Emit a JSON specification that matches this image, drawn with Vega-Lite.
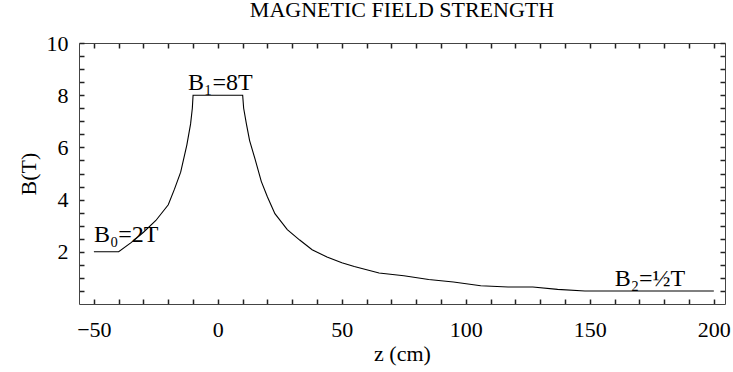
{
  "$schema": "https://vega.github.io/schema/vega-lite/v6.json",
  "width": 646,
  "height": 261,
  "autosize": {"type": "none"},
  "padding": {"left": 79, "top": 43, "right": 8, "bottom": 68},
  "background": "white",
  "config": {"view": {"stroke": null}, "font": "Liberation Serif"},
  "title": {"text": "MAGNETIC FIELD STRENGTH", "font": "Liberation Serif", "fontSize": 22, "fontWeight": "normal", "color": "black", "anchor": "middle", "offset": 10},
  "data": {"values": [
    {"z": -50, "B": 2}, {"z": -40, "B": 2}, {"z": -35, "B": 2.35}, {"z": -30, "B": 2.75},
    {"z": -25, "B": 3.2}, {"z": -20, "B": 3.8}, {"z": -17.5, "B": 4.4}, {"z": -15, "B": 5.05},
    {"z": -12.5, "B": 6.1}, {"z": -11, "B": 6.9}, {"z": -10.3, "B": 7.5}, {"z": -10, "B": 8},
    {"z": 10, "B": 8}, {"z": 10.4, "B": 7.5}, {"z": 11.5, "B": 6.9}, {"z": 12.8, "B": 6.26},
    {"z": 15, "B": 5.55}, {"z": 17.5, "B": 4.7}, {"z": 20, "B": 4.1}, {"z": 23, "B": 3.46},
    {"z": 28, "B": 2.85}, {"z": 33, "B": 2.45}, {"z": 38, "B": 2.08}, {"z": 44, "B": 1.8},
    {"z": 50, "B": 1.58}, {"z": 55, "B": 1.44}, {"z": 65, "B": 1.19}, {"z": 75, "B": 1.08},
    {"z": 85, "B": 0.94}, {"z": 95, "B": 0.84}, {"z": 106, "B": 0.7}, {"z": 117, "B": 0.65},
    {"z": 127, "B": 0.65}, {"z": 137, "B": 0.56}, {"z": 148, "B": 0.5}, {"z": 200, "B": 0.5}
  ]},
  "layer": [
    {
      "mark": {"type": "line", "color": "black", "strokeWidth": 1.1},
      "encoding": {
        "x": {"field": "z", "type": "quantitative", "scale": {"domain": [-56, 204.5], "nice": false, "zero": false},
          "axis": {"orient": "bottom", "values": [-50,-40,-30,-20,-10,0,10,20,30,40,50,60,70,80,90,100,110,120,130,140,150,160,170,180,190,200],
            "title": "z (cm)", "titleFont": "Liberation Serif", "titleFontSize": 22, "titleFontWeight": "normal", "titleColor": "black", "titlePadding": 3,
            "labelFont": "Liberation Serif", "labelFontSize": 22, "labelColor": "black", "labelPadding": 20,
            "labelExpr": "datum.value % 50 === 0 ? replace(format(datum.value, 'd'), '-', '−') : ''", "labelFlush": false, "labelOverlap": false,
            "domainColor": "#444", "ticks": true, "tickColor": "#222", "tickWidth": 1.5, "tickSize": -5, "grid": false}},
        "y": {"field": "B", "type": "quantitative", "scale": {"domain": [0, 10], "nice": false, "zero": false},
          "axis": {"orient": "left", "values": [0.5,1,1.5,2,2.5,3,3.5,4,4.5,5,5.5,6,6.5,7,7.5,8,8.5,9,9.5,10],
            "labelExpr": "datum.value % 2 === 0 ? format(datum.value, 'd') : ''",
            "title": "B(T)", "titleFont": "Liberation Serif", "titleFontSize": 22, "titleFontWeight": "normal", "titleColor": "black", "titlePadding": 6,
            "labelFont": "Liberation Serif", "labelFontSize": 22, "labelColor": "black", "labelPadding": 16,
            "labelOverlap": false, "labelFlush": false,
            "domainColor": "#444", "ticks": true, "tickColor": "#222", "tickWidth": 1.5, "tickSize": -5, "grid": false}}
      }
    },
    {
      "mark": {"type": "line", "opacity": 0},
      "encoding": {
        "x": {"field": "z", "type": "quantitative",
          "axis": {"orient": "top", "values": [-50,-40,-30,-20,-10,0,10,20,30,40,50,60,70,80,90,100,110,120,130,140,150,160,170,180,190,200],
            "title": null, "labels": false, "domainColor": "#444", "ticks": true, "tickColor": "#222", "tickWidth": 1.5, "grid": false, "tickSize": -5}},
        "y": {"field": "B", "type": "quantitative",
          "axis": {"orient": "right", "values": [0.5,1,1.5,2,2.5,3,3.5,4,4.5,5,5.5,6,6.5,7,7.5,8,8.5,9,9.5,10],
            "title": null, "labels": false, "domainColor": "#444", "ticks": true, "tickColor": "#222", "tickWidth": 1.5, "grid": false, "tickSize": -5}}
      }
    },
    {
      "data": {"values": [{"label": "B₀=2T"}]},
      "mark": {"type": "text", "align": "left", "baseline": "alphabetic", "font": "Liberation Serif", "fontSize": 24, "color": "black"},
      "encoding": {"x": {"datum": -50, "type": "quantitative", "axis": null}, "y": {"datum": 2.38, "type": "quantitative", "axis": null}, "text": {"field": "label"}}
    },
    {
      "data": {"values": [{"label": "B₁=8T"}]},
      "mark": {"type": "text", "align": "left", "baseline": "alphabetic", "font": "Liberation Serif", "fontSize": 24, "color": "black"},
      "encoding": {"x": {"datum": -12, "type": "quantitative", "axis": null}, "y": {"datum": 8.19, "type": "quantitative", "axis": null}, "text": {"field": "label"}}
    },
    {
      "data": {"values": [{"label": "B₂=½T"}]},
      "mark": {"type": "text", "align": "left", "baseline": "alphabetic", "font": "Liberation Serif", "fontSize": 24, "color": "black"},
      "encoding": {"x": {"datum": 160, "type": "quantitative", "axis": null}, "y": {"datum": 0.7, "type": "quantitative", "axis": null}, "text": {"field": "label"}}
    }
  ],
  "resolve": {"axis": {"x": "independent", "y": "independent"}}
}
